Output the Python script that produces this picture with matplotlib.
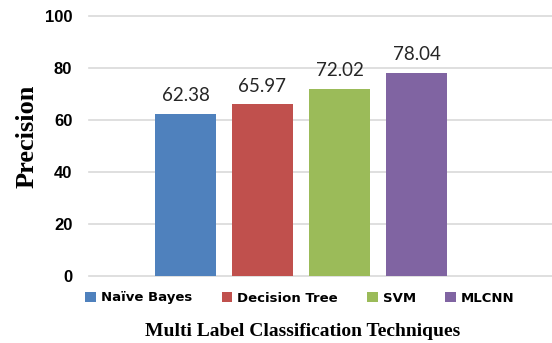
import matplotlib.pyplot as plt
from matplotlib.patches import Patch
import numpy as np

techniques = ["Naïve Bayes", "Decision Tree", "SVM", "MLCNN"]
precision = [62.38, 65.97, 72.02, 78.04]
colors = ["#4F81BD", "#C0504D", "#9BBB59", "#8064A2"]
yticks = [0, 20, 40, 60, 80, 100]

W, H = 552, 343
fig = plt.figure(figsize=(W / 100, H / 100), dpi=100)
ax = fig.add_axes([89 / W, (H - 276) / H, (W - 89) / W, 260 / H])

x = np.arange(len(techniques))
bars = ax.bar(x, precision, width=0.79, color=colors, zorder=3)

for b, v in zip(bars, precision):
    ax.annotate(f"{v:.2f}", (b.get_x() + b.get_width() / 2, v),
                xytext=(0, 7), textcoords="offset points",
                ha="center", va="bottom", fontsize=13.5,
                family="Lato", color="#262626")

ax.set_xlim(-1.253, 4.76)
ax.set_ylim(0, 100)
ax.set_yticks(yticks)
ax.set_yticklabels([str(t) for t in yticks], family="Liberation Sans",
                   fontweight="bold", fontsize=12)
ax.set_xticks([])
ax.tick_params(axis="y", length=0, pad=12)
ax.grid(axis="y", color="#d9d9d9", lw=1.2, zorder=0, clip_on=False)
for s in ax.spines.values():
    s.set_visible(False)

handles = [Patch(facecolor=c) for c in colors]
fig.legend(handles, techniques, loc="center", ncol=4,
           bbox_to_anchor=(300 / W, 1 - 298 / H), frameon=False,
           handlelength=0.8, handleheight=0.8, handletextpad=0.4,
           columnspacing=2.2,
           prop={"family": "DejaVu Sans", "weight": "bold", "size": 9.5})

fig.text(303 / W, 1 - 332 / H, "Multi Label Classification Techniques",
         ha="center", va="center", family="Liberation Serif",
         fontweight="bold", fontsize=14)
fig.text(27 / W, 1 - 136 / H, "Precision", rotation=90,
         ha="center", va="center", family="Liberation Serif",
         fontweight="bold", fontsize=19)

fig.savefig("out.png", dpi=100, facecolor="white")
